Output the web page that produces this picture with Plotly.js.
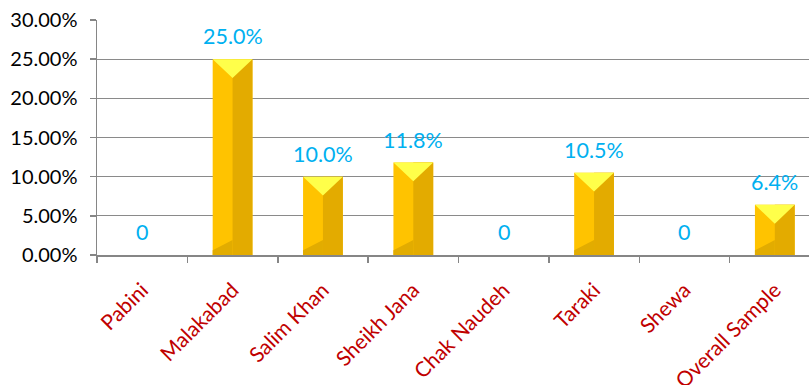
<!DOCTYPE html>
<html>
<head>
<meta charset="utf-8">
<script src="https://cdn.plot.ly/plotly-3.0.1.min.js"></script>
<style>
html,body{margin:0;padding:0;overflow:hidden;background:#fff;}
#chart{width:830px;height:385px;}
</style>
</head>
<body>
<div id="chart"></div>
<script>
// Data
const categories = ["Pabini","Malakabad","Salim Khan","Sheikh Jana","Chak Naudeh","Taraki","Shewa","Overall Sample"];
const values = [0, 0.25, 0.10, 0.118, 0, 0.105, 0, 0.064];
const labels = ["0","25.0%","10.0%","11.8%","0","10.5%","0","6.4%"];
const yTickVals = [0, 0.05, 0.10, 0.15, 0.20, 0.25, 0.30];

// Styling constants
const BAR_W = 0.44;
const TOP_BEVEL = 0.024;   // in y data units
const BOT_BEVEL_C = 0.019;
const BOT_BEVEL_L = 0.006;
const FONT = "Lato, 'Liberation Sans', sans-serif";

// main face (left colour)
const faceTrace = {
  type: "bar", x: categories, y: values, width: BAR_W,
  marker: {color: "#FFC300", line: {width: 0}},
  hoverinfo: "skip", showlegend: false
};
// right darker face
const sideTrace = {
  type: "bar", x: categories, y: values, width: BAR_W/2, offset: 0,
  marker: {color: "#E3AB00", line: {width: 0}},
  hoverinfo: "skip", showlegend: false
};

// bevel polygons on a hidden numeric overlay axis
const topX = [], topY = [], botX = [], botY = [];
values.forEach((v, i) => {
  if (v <= 0) return;
  const l = i - BAR_W/2, r = i + BAR_W/2;
  topX.push(l, r, i, l, null);
  topY.push(v, v, v - TOP_BEVEL, v, null);
  botX.push(l, l, i, i, l, null);
  botY.push(0, BOT_BEVEL_L, BOT_BEVEL_C, 0, 0, null);
});
const topTrace = {
  type: "scatter", mode: "lines", x: topX, y: topY, xaxis: "x2", yaxis: "y",
  fill: "toself", fillcolor: "#FFFF4A", line: {width: 0, color: "rgba(0,0,0,0)"},
  hoverinfo: "skip", showlegend: false, connectgaps: false
};
const botTrace = {
  type: "scatter", mode: "lines", x: botX, y: botY, xaxis: "x2", yaxis: "y",
  fill: "toself", fillcolor: "#E2AC00", line: {width: 0, color: "rgba(0,0,0,0)"},
  hoverinfo: "skip", showlegend: false, connectgaps: false
};

const annotations = categories.map((c, i) => ({
  x: c, y: values[i], xref: "x", yref: "y",
  text: labels[i], showarrow: false, yanchor: "middle", yshift: 23,
  font: {family: FONT, size: 21.5, color: "#00B0F0"}
}));

const layout = {
  width: 830, height: 385,
  margin: {l: 97, r: 10, t: 20, b: 129.5},
  paper_bgcolor: "#fff", plot_bgcolor: "#fff",
  barmode: "overlay",
  showlegend: false,
  font: {family: FONT},
  xaxis: {
    type: "category", range: [-0.5, 7.5],
    tickson: "boundaries", ticks: "outside", ticklen: 6, tickcolor: "#868686", tickwidth: 1.5,
    showline: true, linecolor: "#868686", linewidth: 1.5,
    showgrid: false, zeroline: false,
    tickangle: -45, ticklabelstandoff: 13,
    tickfont: {family: FONT, size: 21, color: "#C00000"}
  },
  xaxis2: {
    overlaying: "x", range: [-0.5, 7.5], visible: false, fixedrange: true
  },
  yaxis: {
    range: [0, 0.30], tickvals: yTickVals, tickformat: ".2%",
    ticks: "outside", ticklen: 6, tickcolor: "#868686", tickwidth: 1.5,
    showline: true, linecolor: "#868686", linewidth: 1.5,
    showgrid: true, gridcolor: "#8A8A8A", gridwidth: 1.3,
    zeroline: false, ticklabelstandoff: 8,
    tickfont: {family: FONT, size: 20, color: "#000"}
  },
  annotations: annotations
};

Plotly.newPlot("chart", [faceTrace, sideTrace, botTrace, topTrace], layout, {displayModeBar: false, staticPlot: true});
</script>
</body>
</html>
